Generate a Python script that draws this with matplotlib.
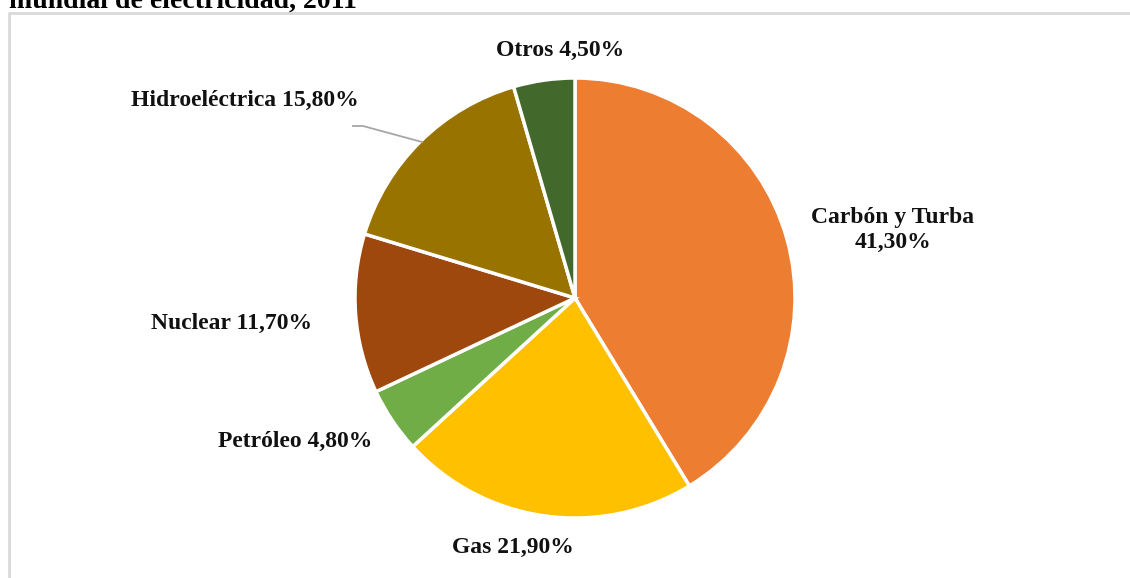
import matplotlib
matplotlib.use("Agg")
import matplotlib.pyplot as plt

categories = ["Carbón y Turba", "Gas", "Petróleo", "Nuclear", "Hidroeléctrica", "Otros"]
values = [41.3, 21.9, 4.8, 11.7, 15.8, 4.5]
labels = ["Carbón y Turba\n41,30%", "Gas 21,90%", "Petróleo 4,80%", "Nuclear 11,70%",
          "Hidroeléctrica 15,80%", "Otros 4,50%"]
colors = ["#ED7D31", "#FFC000", "#70AD47", "#9E480E", "#997300", "#43682B"]
title = "mundial de electricidad, 2011"

W, H = 1130, 578
fig = plt.figure(figsize=(W / 100, H / 100), dpi=100)
ax = fig.add_axes([0, 0, 1, 1])

cx, cy, r = 575, H - 298, 220
ax.pie(values, colors=colors, startangle=90, counterclock=False,
       center=(cx, cy), radius=r, frame=True,
       wedgeprops=dict(edgecolor="white", linewidth=2.5))
ax.set_xlim(0, W)
ax.set_ylim(0, H)
ax.set_aspect("equal")
ax.axis("off")

font = dict(family="Liberation Serif", fontweight="bold", fontsize=17, color="#111111")
label_pos = [(893, 230), (513, 547), (295, 441), (232, 323), (245, 100), (560, 50)]
for lab, (x, y) in zip(labels, label_pos):
    ax.text(x, H - y, lab, ha="center", va="center", linespacing=1.3, **font)

# leader line for Hidroeléctrica
ax.plot([353, 363, 422], [H - 126, H - 126, H - 142], color="#a6a6a6", lw=1.3)

# chart border
ax.plot([8.5, 8.5, W], [0, H - 12.5, H - 12.5], color="#d9d9d9", lw=2, solid_capstyle="butt")

# title (cropped at the top, as in the source image)
fig.text(9 / W, 1 - 8 / H, title, ha="left", va="baseline",
         family="Liberation Serif", fontweight="bold", fontsize=20, color="black")

fig.savefig("out.png", dpi=100)
